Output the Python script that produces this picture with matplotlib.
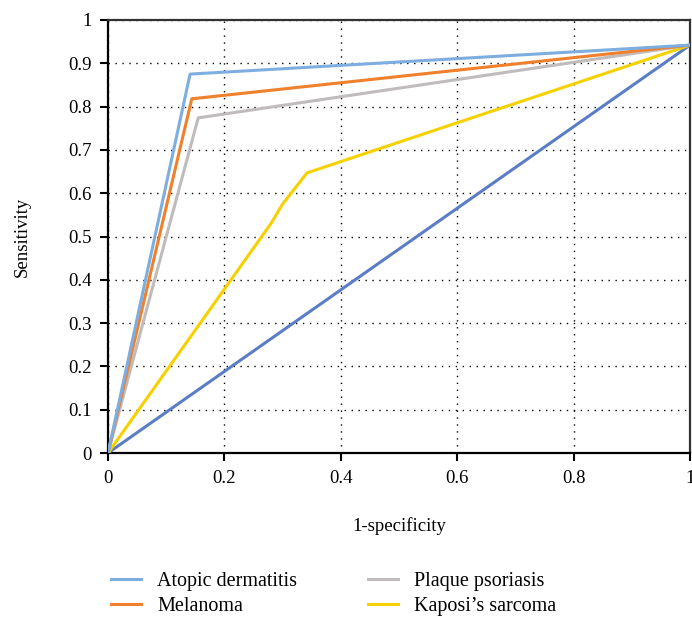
import matplotlib
matplotlib.use("Agg")
import matplotlib.pyplot as plt
from matplotlib.lines import Line2D

plt.rcParams['font.family'] = ['Liberation Serif', 'DejaVu Serif']

# ROC curve points (1-specificity, sensitivity)
atopic_x = [0.0, 0.141, 1.0]
atopic_y = [0.0, 0.875, 0.942]
melanoma_x = [0.0, 0.144, 1.0]
melanoma_y = [0.0, 0.818, 0.942]
plaque_x = [0.0, 0.155, 1.0]
plaque_y = [0.0, 0.774, 0.942]
kaposi_x = [0.0, 0.28, 0.30, 0.342, 1.0]
kaposi_y = [0.0, 0.53, 0.575, 0.647, 0.942]
ref_x = [0.0, 1.0]
ref_y = [0.0, 0.942]

series_names = ["Atopic dermatitis", "Melanoma", "Plaque psoriasis", "Kaposi’s sarcoma"]
colors = ["#7EAEDF", "#F0802C", "#C0BCBC", "#F7D000"]
ref_color = "#5B7DC5"

xticks = [0, 0.2, 0.4, 0.6, 0.8, 1]
xticklabels = ["0", "0.2", "0.4", "0.6", "0.8", "1"]
yticks = [0, 0.1, 0.2, 0.3, 0.4, 0.5, 0.6, 0.7, 0.8, 0.9, 1]
yticklabels = ["0", "0.1", "0.2", "0.3", "0.4", "0.5", "0.6", "0.7", "0.8", "0.9", "1"]

fig = plt.figure(figsize=(6.92, 6.18), dpi=100)
ax = fig.add_axes([108/692, 1-453/618, (690-108)/692, (453-20)/618])

ax.plot(ref_x, ref_y, color=ref_color, lw=2.2, zorder=3)
ax.plot(kaposi_x, kaposi_y, color=colors[3], lw=2.2, zorder=4)
ax.plot(plaque_x, plaque_y, color=colors[2], lw=2.2, zorder=5)
ax.plot(melanoma_x, melanoma_y, color=colors[1], lw=2.2, zorder=6)
ax.plot(atopic_x, atopic_y, color=colors[0], lw=2.2, zorder=7)

ax.set_xlim(0, 1)
ax.set_ylim(0, 1)
ax.set_xticks(xticks)
ax.set_xticklabels(xticklabels)
ax.set_yticks(yticks)
ax.set_yticklabels(yticklabels)
ax.tick_params(direction='out', length=6, width=1.5, labelsize=13.5, pad=6)
ax.grid(True, linestyle=(0, (1, 4)), color='black', linewidth=1.0)
for s in ['left', 'bottom']:
    ax.spines[s].set_linewidth(1.6)
    ax.spines[s].set_color('black')
for s in ['top', 'right']:
    ax.spines[s].set_linewidth(1.6)
    ax.spines[s].set_color('#333333')

ax.set_xlabel("1-specificity", fontsize=13.5, labelpad=22)
ax.set_ylabel("Sensitivity", fontsize=13.5, labelpad=27)

handles = [Line2D([0], [0], color=c, lw=2.2) for c in colors]
fig.legend(handles, series_names, ncol=2,
           loc='upper left', bbox_to_anchor=(93/692, 1-554/618), frameon=False,
           fontsize=14.5, handlelength=1.5, handletextpad=0.8,
           columnspacing=3.5, labelspacing=0.3, borderpad=0.4)

fig.savefig("out.png", dpi=100)
